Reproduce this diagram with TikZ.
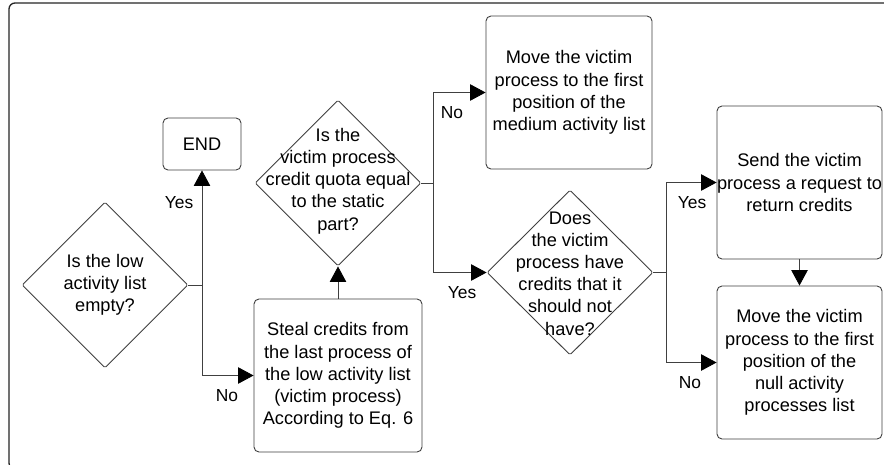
\documentclass[tikz,border=0pt]{standalone}
\usepackage{fontspec}
\setmainfont{Liberation Sans}
\usetikzlibrary{shapes.geometric,arrows.meta}
\newcommand{\bodyfont}{\fontsize{18.2}{22.2}\selectfont}
\newcommand{\labelfont}{\fontsize{17.4}{20}\selectfont}
\tikzset{
  procbox/.style={draw=black!75, line width=0.9pt, rounded corners=5pt,
    inner sep=0pt, align=center, font=\bodyfont},
  decision/.style={draw=black!75, line width=0.9pt, shape=diamond, aspect=1,
    inner sep=0pt, minimum width=166pt, minimum height=166pt, rounded corners=1.5pt},
  dtext/.style={align=center, inner sep=0pt, font=\bodyfont},
  link/.style={draw=black!75, line width=0.8pt},
  flow/.style={link, -{Triangle[length=15.5pt,width=16.5pt,color=black]}},
  lbl/.style={font=\labelfont, inner sep=0pt}
}
\begin{document}
\begin{tikzpicture}[x=1pt,y=-1pt]
  \useasboundingbox (0,0) rectangle (884,464);
  \clip (0,0) rectangle (884,464);
  \fill[white] (0,0) rectangle (884,464);
  % outer frame
  \draw[line width=1.3pt, draw=black!85, rounded corners=6pt] (9,3) rectangle (905,469);

  % decisions
  \node[decision] (d1) at (105,285) {};
  \node[dtext] (d1t) at (d1.center) {Is the low\\activity list\\empty?};
  \node[decision] (d2) at (338,183) {};
  \node[dtext] (d2t) at (338,181) {Is the\\victim process\\credit quota equal\\to the static\\part?};
  \node[decision, minimum height=165pt] (d3) at (570,272.5) {};
  \node[dtext] (d3t) at (570,273.5) {Does\\the victim\\process have\\credits that it\\should not\\have?};

  % process boxes
  \node[procbox, minimum width=78pt, minimum height=52pt] (end) at (202,144) {END};
  \node[procbox, minimum width=168pt, minimum height=153pt] (steal) at (338,375.5)
    {Steal credits from\\the last process of\\the low activity list\\(victim process)\\According to Eq. 6};
  \node[procbox, minimum width=166pt, minimum height=153pt] (medium) at (569,92.5)
    {Move the victim\\process to the first\\position of the\\medium activity list};
  \node[procbox, minimum width=165pt, minimum height=153pt] (send) at (799.5,182.5)
    {Send the victim\\process a request to\\return credits};
  \node[procbox, minimum width=165pt, minimum height=153pt] (null) at (799.5,362.5)
    {Move the victim\\process to the first\\position of the\\null activity\\processes list};

  % branch points
  \coordinate (j1) at (202,285);
  \coordinate (j2) at (433,183);
  \coordinate (j3) at (666,272.5);

  % connectors
  \draw[link] (d1.east) -- (j1);
  \draw[flow] (j1) -- (end.south);
  \draw[flow] (j1) |- (steal.west);
  \draw[flow] (steal.north) -- (d2.south);
  \draw[link] (d2.east) -- (j2);
  \draw[flow] (j2) |- (medium.west);
  \draw[flow] (j2) |- (d3.west);
  \draw[link] (d3.east) -- (j3);
  \draw[flow] (j3) |- (send.west);
  \draw[flow] (j3) |- (null.west);
  \draw[flow] (send.south) -- (null.north);

  % branch labels
  \node[lbl] (y1) at (179,203) {Yes};
  \node[lbl] (n1) at (227,396) {No};
  \node[lbl] (n2) at (452,113) {No};
  \node[lbl] (y2) at (462,293) {Yes};
  \node[lbl] (y3) at (692,203) {Yes};
  \node[lbl] (n3) at (690,383) {No};
\end{tikzpicture}
\end{document}
